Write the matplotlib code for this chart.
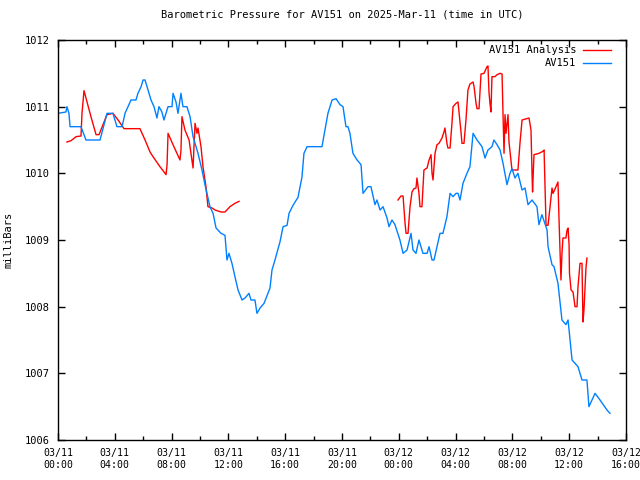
"""Barometric pressure at AV151 for 2025-03-11: station readings vs analysis."""

import matplotlib

matplotlib.use("Agg")
import matplotlib.pyplot as plt
import matplotlib.dates as mdates
import pandas as pd

START = pd.Timestamp("2025-03-11 00:00")

# station readings: hours since 03/11 00:00 UTC, pressure in mb
obs_hours = [
    0.0, 0.56, 0.63, 0.77, 0.85, 1.62, 1.97, 2.96, 3.45, 3.87, 4.15, 4.51,
    4.72, 5.14, 5.49, 5.63, 5.85, 5.99, 6.13, 6.34, 6.55, 6.76, 6.97, 7.11,
    7.32, 7.46, 7.75, 8.03, 8.10, 8.31, 8.45, 8.66, 8.80, 9.08, 9.30, 9.51,
    9.86, 10.14, 10.35, 10.56, 10.70, 10.92, 11.13, 11.48, 11.76, 11.90,
    12.04, 12.25, 12.46, 12.68, 12.96, 13.17, 13.45, 13.59, 13.87, 14.01,
    14.23, 14.51, 14.93, 15.07, 15.28, 15.63, 15.85, 16.13, 16.27, 16.55,
    16.90, 17.18, 17.32, 17.54, 18.59, 18.80, 19.01, 19.30, 19.58, 19.86,
    20.07, 20.28, 20.42, 20.56, 20.77, 21.06, 21.34, 21.48, 21.83, 22.04,
    22.32, 22.46, 22.68, 22.89, 23.17, 23.31, 23.52, 23.73, 24.01, 24.08,
    24.30, 24.58, 24.86, 25.00, 25.21, 25.42, 25.70, 25.99, 26.13, 26.34,
    26.48, 26.69, 26.90, 27.11, 27.39, 27.61, 27.82, 28.03, 28.17, 28.31,
    28.52, 28.80, 29.01, 29.23, 29.51, 29.86, 30.07, 30.28, 30.56, 30.70,
    30.92, 31.13, 31.34, 31.62, 31.83, 31.97, 32.18, 32.39, 32.68, 32.89,
    33.10, 33.38, 33.73, 33.87, 34.08, 34.44, 34.51, 34.79, 34.93, 35.21,
    35.49, 35.77, 35.92, 36.20, 36.62, 36.90, 37.25, 37.39, 37.82, 38.17,
    38.66, 38.87,
]
obs_mb = [
    1010.9, 1010.92, 1011.0, 1010.9, 1010.7, 1010.7, 1010.5, 1010.5, 1010.9,
    1010.9, 1010.7, 1010.7, 1010.9, 1011.1, 1011.1, 1011.2, 1011.3, 1011.4,
    1011.4, 1011.25, 1011.1, 1011.0, 1010.83, 1011.0, 1010.92, 1010.8,
    1011.0, 1011.0, 1011.2, 1011.07, 1010.9, 1011.2, 1011.0, 1011.0,
    1010.85, 1010.55, 1010.3, 1010.05, 1009.83, 1009.63, 1009.5, 1009.4,
    1009.18, 1009.1, 1009.07, 1008.7, 1008.8, 1008.65, 1008.45, 1008.25,
    1008.1, 1008.13, 1008.2, 1008.1, 1008.1, 1007.9, 1007.98, 1008.05,
    1008.28, 1008.55, 1008.7, 1008.97, 1009.2, 1009.22, 1009.4, 1009.52,
    1009.64, 1009.94, 1010.3, 1010.4, 1010.4, 1010.65, 1010.9, 1011.1,
    1011.12, 1011.03, 1011.0, 1010.7, 1010.7, 1010.6, 1010.3, 1010.2,
    1010.13, 1009.7, 1009.8, 1009.8, 1009.53, 1009.6, 1009.45, 1009.5,
    1009.33, 1009.2, 1009.3, 1009.23, 1009.05, 1009.0, 1008.8, 1008.85,
    1009.1, 1008.85, 1008.8, 1009.0, 1008.8, 1008.8, 1008.9, 1008.7, 1008.7,
    1008.9, 1009.1, 1009.1, 1009.35, 1009.7, 1009.65, 1009.7, 1009.7,
    1009.6, 1009.85, 1010.0, 1010.1, 1010.6, 1010.5, 1010.4, 1010.23,
    1010.35, 1010.4, 1010.5, 1010.43, 1010.35, 1010.15, 1009.83, 1010.0,
    1010.07, 1009.93, 1010.0, 1009.75, 1009.78, 1009.53, 1009.6, 1009.5,
    1009.23, 1009.38, 1009.15, 1008.9, 1008.63, 1008.6, 1008.35, 1007.8,
    1007.73, 1007.8, 1007.2, 1007.1, 1006.9, 1006.9, 1006.5, 1006.7, 1006.6,
    1006.45, 1006.4,
]

# analysis, first run (morning)
ana1_hours = [
    0.63, 0.92, 1.27, 1.62, 1.69, 1.83, 1.97, 2.32, 2.68, 2.89, 3.17, 3.45,
    3.87, 4.23, 4.65, 5.77, 6.13, 6.48, 6.69, 7.18, 7.61, 7.68, 7.75, 8.10,
    8.59, 8.66, 8.73, 8.94, 9.23, 9.51, 9.65, 9.79, 9.86, 10.07, 10.21,
    10.42, 10.56, 10.85, 11.06, 11.48, 11.76, 12.11, 12.46, 12.75,
]
ana1_mb = [
    1010.47, 1010.49, 1010.55, 1010.56, 1010.9, 1011.24, 1011.13, 1010.85,
    1010.58, 1010.58, 1010.73, 1010.88, 1010.9, 1010.8, 1010.67, 1010.67,
    1010.5, 1010.32, 1010.25, 1010.1, 1009.98, 1010.13, 1010.6, 1010.43,
    1010.2, 1010.35, 1010.85, 1010.65, 1010.5, 1010.08, 1010.75, 1010.6,
    1010.68, 1010.4, 1010.1, 1009.8, 1009.5, 1009.48, 1009.45, 1009.42,
    1009.42, 1009.5, 1009.55, 1009.58,
]

# analysis, second run (overnight into 03/12)
ana2_hours = [
    23.94, 24.15, 24.30, 24.44, 24.51, 24.65, 24.79, 24.93, 25.07, 25.21,
    25.28, 25.42, 25.49, 25.63, 25.77, 25.99, 26.13, 26.27, 26.34, 26.41,
    26.55, 26.69, 26.83, 27.04, 27.18, 27.25, 27.39, 27.46, 27.61, 27.75,
    27.82, 28.03, 28.17, 28.24, 28.38, 28.45, 28.59, 28.73, 28.87, 29.01,
    29.23, 29.30, 29.44, 29.51, 29.65, 29.79, 30.00, 30.21, 30.28, 30.35,
    30.42, 30.49, 30.56, 30.77, 30.92, 31.13, 31.27, 31.34, 31.41, 31.48,
    31.55, 31.69, 31.76, 31.97, 32.39, 32.54, 32.68, 33.17, 33.31, 33.38,
    33.42, 33.45, 33.52, 33.87, 34.15, 34.23, 34.37, 34.51, 34.65, 34.79,
    34.86, 35.07, 35.21, 35.28, 35.42, 35.49, 35.56, 35.77, 35.85, 35.92,
    35.99, 36.02, 36.13, 36.27, 36.41, 36.55, 36.62, 36.76, 36.90, 36.97,
    37.04, 37.18, 37.25,
]
ana2_mb = [
    1009.6, 1009.66, 1009.66, 1009.25, 1009.1, 1009.1, 1009.5, 1009.72,
    1009.77, 1009.78, 1009.93, 1009.7, 1009.5, 1009.5, 1010.05, 1010.08,
    1010.2, 1010.28, 1010.0, 1009.9, 1010.3, 1010.43, 1010.45, 1010.53,
    1010.62, 1010.68, 1010.45, 1010.38, 1010.38, 1010.77, 1011.0, 1011.05,
    1011.07, 1010.92, 1010.62, 1010.45, 1010.45, 1010.8, 1011.25, 1011.34,
    1011.37, 1011.3, 1011.05, 1010.97, 1010.97, 1011.49, 1011.5, 1011.6,
    1011.61, 1011.22, 1011.05, 1010.92, 1011.45, 1011.45, 1011.48, 1011.5,
    1011.49, 1010.88, 1010.3, 1010.88, 1010.6, 1010.88, 1010.47, 1010.05,
    1010.05, 1010.47, 1010.8, 1010.83, 1010.65, 1010.02, 1009.72, 1009.9,
    1010.28, 1010.3, 1010.33, 1010.35, 1009.22, 1009.22, 1009.5, 1009.78,
    1009.7, 1009.8, 1009.87, 1009.33, 1008.4, 1008.8, 1009.03, 1009.03,
    1009.15, 1009.18, 1008.93, 1008.5, 1008.25, 1008.22, 1008.0, 1008.0,
    1008.3, 1008.65, 1008.65, 1007.77, 1007.95, 1008.58, 1008.73,
]

RED = "#ff0000"
BLUE = "#0080ff"
FONT = "DejaVu Sans Mono"


def to_time(hours):
    return START + pd.to_timedelta(hours, unit="h")


def main() -> None:
    plt.rcParams["font.family"] = FONT
    plt.rcParams["font.size"] = 7.5

    fig = plt.figure(figsize=(6.4, 4.8), dpi=100)
    ax = fig.add_axes([58 / 640, 40 / 480, 568 / 640, 400 / 480])

    ax.plot(to_time(ana1_hours), ana1_mb, color=RED, lw=1, label="AV151 Analysis")
    ax.plot(to_time(ana2_hours), ana2_mb, color=RED, lw=1)
    ax.plot(to_time(obs_hours), obs_mb, color=BLUE, lw=1, label="AV151")

    ax.set_xlim(START, START + pd.Timedelta(hours=40))
    ax.set_ylim(1006, 1012)
    ax.set_yticks(range(1006, 1013))

    ax.xaxis.set_major_locator(mdates.HourLocator(byhour=range(0, 24, 4)))
    ax.xaxis.set_minor_locator(mdates.HourLocator(byhour=range(0, 24, 2)))
    ax.xaxis.set_major_formatter(mdates.DateFormatter("%m/%d\n%H:%M"))

    ax.tick_params(which="both", direction="in", top=True, right=True, width=1)
    ax.tick_params(which="major", length=5, pad=6)
    ax.tick_params(which="minor", length=3)
    ax.tick_params(axis="x", labelsize=7.1)
    for s in ax.spines.values():
        s.set_linewidth(1)

    ax.set_title("Barometric Pressure for AV151 on 2025-Mar-11 (time in UTC)",
                 fontsize=7.5, pad=16)
    ax.set_ylabel("milliBars", labelpad=8)

    ax.legend(loc="upper right", bbox_to_anchor=(0.982, 1.0), frameon=False,
              markerfirst=False, handlelength=2.6, borderaxespad=0.3,
              borderpad=0.2, labelspacing=0.3, handletextpad=0.7,
              fontsize=7.5)

    fig.savefig("out.png", dpi=100)


if __name__ == "__main__":
    main()
